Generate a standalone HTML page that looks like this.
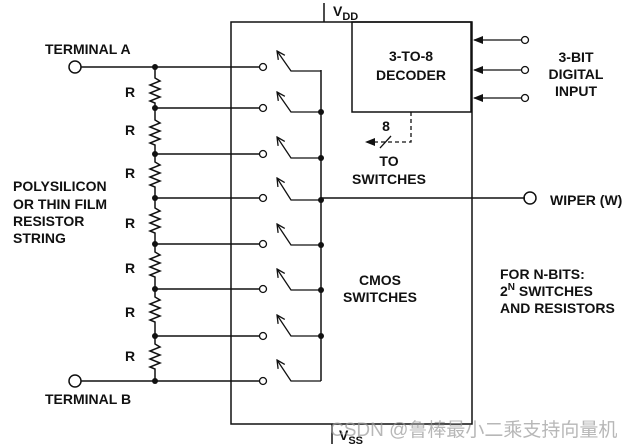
<!DOCTYPE html>
<html><head><meta charset="utf-8"><style>
html,body{margin:0;padding:0;background:#fff}
svg{display:block}
text{font-family:"Liberation Sans",Arial,sans-serif;font-weight:bold;font-size:14px;fill:#111}
</style></head><body>
<svg width="634" height="447" viewBox="0 0 634 447" xmlns="http://www.w3.org/2000/svg">
<defs>
<marker id="ah" markerWidth="10" markerHeight="8" refX="9" refY="4" orient="auto" markerUnits="userSpaceOnUse">
<path d="M0,0 L10,4 L0,8 z" fill="#111"/></marker>
<marker id="av" markerWidth="10" markerHeight="10" refX="9" refY="5" orient="auto" markerUnits="userSpaceOnUse">
<path d="M1,1 L9,5 L1,9" fill="none" stroke="#111" stroke-width="1.3"/></marker>
</defs>
<g stroke="#111" stroke-width="1.5" fill="none">
<rect x="231" y="22" width="241" height="402"/>
<rect x="352" y="22" width="119" height="90"/>
<line x1="324" y1="3" x2="324" y2="22"/>
<line x1="332" y1="424" x2="332" y2="444"/>
<path d="M155,67 L155,78 l5,3 l-10,4 l10,4 l-10,4 l10,4 l-10,4 l5,2 L155,108
 L155,120 l5,3 l-10,4 l10,4 l-10,4 l10,4 l-10,4 l5,2 L155,154
 L155,162 l5,3 l-10,4 l10,4 l-10,4 l10,4 l-10,4 l5,2 L155,198
 L155,208 l5,3 l-10,4 l10,4 l-10,4 l10,4 l-10,4 l5,2 L155,244
 L155,252 l5,3 l-10,4 l10,4 l-10,4 l10,4 l-10,4 l5,2 L155,289
 L155,297 l5,3 l-10,4 l10,4 l-10,4 l10,4 l-10,4 l5,2 L155,336
 L155,344 l5,3 l-10,4 l10,4 l-10,4 l10,4 l-10,4 l5,2 L155,381"/>
<line x1="81" y1="67" x2="259" y2="67"/>
<line x1="81" y1="381" x2="259" y2="381"/>
<circle cx="75" cy="67" r="6"/>
<circle cx="75" cy="381" r="6"/>
<line x1="155" y1="108" x2="259" y2="108"/>
<line x1="155" y1="154" x2="259" y2="154"/>
<line x1="155" y1="198" x2="259" y2="198"/>
<line x1="155" y1="244" x2="259" y2="244"/>
<line x1="155" y1="289" x2="259" y2="289"/>
<line x1="155" y1="336" x2="259" y2="336"/>
<line x1="321" y1="70" x2="321" y2="381"/>
<line x1="321" y1="198" x2="525" y2="198"/>
<circle cx="530" cy="198" r="6"/>
</g>
<g stroke="#111" stroke-width="1.3" fill="#fff">
<circle cx="263" cy="67" r="3.5"/><circle cx="263" cy="108" r="3.5"/><circle cx="263" cy="154" r="3.5"/><circle cx="263" cy="198" r="3.5"/>
<circle cx="263" cy="244" r="3.5"/><circle cx="263" cy="289" r="3.5"/><circle cx="263" cy="336" r="3.5"/><circle cx="263" cy="381" r="3.5"/>
<circle cx="525" cy="40" r="3.5"/><circle cx="525" cy="70" r="3.5"/><circle cx="525" cy="98" r="3.5"/>
</g>
<g stroke="#111" stroke-width="1.3" fill="none">
<path d="M321,71 L291,71 L277,51" marker-end="url(#av)"/>
<path d="M321,112 L291,112 L277,92" marker-end="url(#av)"/>
<path d="M321,158 L291,158 L277,137" marker-end="url(#av)"/>
<path d="M321,200 L291,200 L277,178" marker-end="url(#av)"/>
<path d="M321,245 L291,245 L277,224" marker-end="url(#av)"/>
<path d="M321,290 L291,290 L277,269" marker-end="url(#av)"/>
<path d="M321,336 L291,336 L277,315" marker-end="url(#av)"/>
<path d="M321,381 L291,381 L277,360" marker-end="url(#av)"/>
<line x1="521" y1="40" x2="474" y2="40" marker-end="url(#ah)"/>
<line x1="521" y1="70" x2="474" y2="70" marker-end="url(#ah)"/>
<line x1="521" y1="98" x2="474" y2="98" marker-end="url(#ah)"/>
<path d="M411,112 L411,142 L366,142" stroke-dasharray="4,3" marker-end="url(#ah)"/>
<line x1="380" y1="148" x2="391" y2="136"/>
</g>
<g fill="#111">
<circle cx="155" cy="67" r="3"/><circle cx="155" cy="108" r="3"/><circle cx="155" cy="154" r="3"/><circle cx="155" cy="198" r="3"/>
<circle cx="155" cy="244" r="3"/><circle cx="155" cy="289" r="3"/><circle cx="155" cy="336" r="3"/><circle cx="155" cy="381" r="3"/>
<circle cx="321" cy="112" r="3"/><circle cx="321" cy="158" r="3"/><circle cx="321" cy="200" r="3"/><circle cx="321" cy="245" r="3"/><circle cx="321" cy="290" r="3"/><circle cx="321" cy="336" r="3"/>
</g>
<text x="45" y="54">TERMINAL A</text>
<text x="45" y="404">TERMINAL B</text>
<text x="125" y="97">R</text><text x="125" y="135">R</text><text x="125" y="178">R</text>
<text x="125" y="228">R</text><text x="125" y="273">R</text><text x="125" y="317">R</text><text x="125" y="361">R</text>
<text x="13" y="191">POLYSILICON</text>
<text x="13" y="209">OR THIN FILM</text>
<text x="13" y="226">RESISTOR</text>
<text x="13" y="243">STRING</text>
<text x="333" y="16">V<tspan font-size="11" dy="4">DD</tspan></text>
<text x="339" y="440">V<tspan font-size="11" dy="4">SS</tspan></text>
<text x="411" y="61" text-anchor="middle">3-TO-8</text>
<text x="411" y="80" text-anchor="middle">DECODER</text>
<text x="576" y="62" text-anchor="middle">3-BIT</text>
<text x="576" y="79" text-anchor="middle">DIGITAL</text>
<text x="576" y="96" text-anchor="middle">INPUT</text>
<text x="386" y="131" text-anchor="middle">8</text>
<text x="389" y="166" text-anchor="middle">TO</text>
<text x="389" y="184" text-anchor="middle">SWITCHES</text>
<text x="550" y="205">WIPER (W)</text>
<text x="380" y="285" text-anchor="middle">CMOS</text>
<text x="380" y="302" text-anchor="middle">SWITCHES</text>
<text x="500" y="279">FOR N-BITS:</text>
<text x="500" y="296">2<tspan font-size="10" dy="-6">N</tspan><tspan dy="6"> SWITCHES</tspan></text>
<text x="500" y="313">AND RESISTORS</text>
<text x="330" y="436" style="font-weight:normal;font-family:'Liberation Sans','Noto Sans CJK SC',sans-serif;font-size:19px;fill:#999;fill-opacity:0.7">CSDN @鲁棒最小二乘支持向量机</text>
</svg>
</body></html>
